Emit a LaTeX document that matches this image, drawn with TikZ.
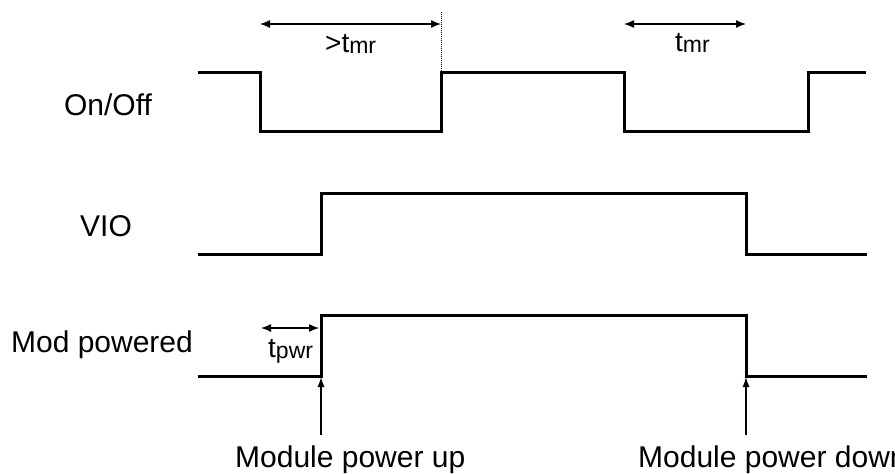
\documentclass[tikz,border=0pt]{standalone}
\usepackage{fontspec}
\setmainfont{Liberation Sans}
\usepackage{tikz}
\usetikzlibrary{arrows.meta}

\newcommand{\tsym}[2]{{\fontsize{28}{32}\selectfont #1}{\fontsize{23}{26}\selectfont\raisebox{-1pt}{#2}}}

\begin{document}
\begin{tikzpicture}[x=1pt,y=-1pt,
  sig/.style={line width=3pt},
  dimarrow/.style={line width=1.3pt,{Latex[length=10pt,width=8pt]}-{Latex[length=10pt,width=8pt]}},
  evarrow/.style={line width=1.3pt,-{Latex[length=10pt,width=7pt]}},
  lab/.style={font=\fontsize{30}{34}\selectfont}]
\useasboundingbox (0,0) rectangle (895,474);

% signal names
\node[lab] (onoff) at (108,105) {On/Off};
\node[lab] (vio) at (106,226) {VIO};
\node[lab] (mod) at (102,345) {Mod powered};

% edges
\coordinate (offA) at (260,24);
\coordinate (onA) at (441,24);
\coordinate (offB) at (624,24);
\coordinate (offBend) at (746,24);
\coordinate (rise) at (261,328);
\coordinate (riseend) at (319,328);
\coordinate (up) at (321,377);
\coordinate (upfoot) at (321,435);
\coordinate (down) at (746,377);
\coordinate (downfoot) at (746,435);
\coordinate (mark) at (441,12);
\coordinate (markend) at (441,72);

% waveforms
\draw[sig] (198,72) -- (260,72) -- (260,131) -- (441,131) -- (441,72) -- (624,72)
  -- (624,131) -- (808,131) -- (808,72) -- (866,72);
\draw[sig] (198,254) -- (321,254) -- (321,193) -- (746,193) -- (746,254) -- (867,254);
\draw[sig] (198,376) -- (321,376) -- (321,315) -- (746,315) -- (746,376) -- (867,376);

% timings
\draw[densely dotted,line width=1pt] (mark) -- (markend);
\draw[dimarrow] (offA) -- (onA);
\draw[dimarrow] (offB) -- (offBend);
\draw[dimarrow] (rise) -- (riseend);
\node[anchor=base west,inner sep=0pt] (tmrlong) at (325,52) {\tsym{>t}{mr}};
\node[anchor=base west,inner sep=0pt] (tmr) at (675,51) {\tsym{t}{mr}};
\node[anchor=base west,inner sep=0pt] (tpwr) at (268,357) {\tsym{t}{pwr}};

% events
\draw[evarrow] (upfoot) -- (up);
\draw[evarrow] (downfoot) -- (down);
\node[lab,anchor=base west,inner sep=0pt] (pwrup) at (235,467) {Module power up};
\node[lab,anchor=base west,inner sep=0pt] (pwrdown) at (638,467) {Module power down};
\end{tikzpicture}
\end{document}
